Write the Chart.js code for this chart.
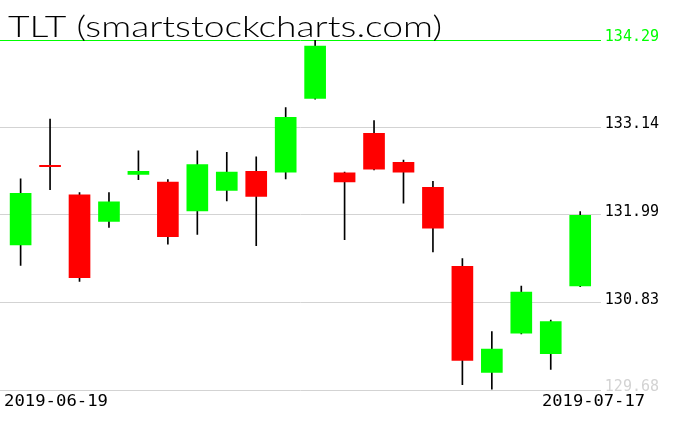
<!DOCTYPE html>
<html>
<head>
<meta charset="utf-8">
<script src="https://cdn.jsdelivr.net/npm/chart.js@4/dist/chart.umd.min.js"></script>
<style>
  body { margin: 0; background: #fff; }
  #wrap { width: 676px; height: 431px; position: relative; }
</style>
</head>
<body>
<div id="wrap"><canvas id="myChart"></canvas></div>
<script>
// TLT daily candles, 2019-06-19 .. 2019-07-17
const opens  = [131.59, 132.64, 132.25, 131.90, 132.52, 132.42, 132.04, 132.31, 132.56, 132.55,
                133.52, 132.54, 133.06, 132.68, 132.35, 131.31, 129.91, 130.43, 130.16, 131.05];
const closes = [132.27, 132.62, 131.16, 132.16, 132.56, 131.70, 132.65, 132.55, 132.23, 133.27,
                134.21, 132.42, 132.59, 132.55, 131.81, 130.07, 130.22, 130.97, 130.58, 131.98];
const highs  = [132.46, 133.25, 132.28, 132.28, 132.83, 132.45, 132.83, 132.81, 132.75, 133.40,
                134.29, 132.55, 133.23, 132.71, 132.43, 131.41, 130.45, 131.05, 130.60, 132.03];
const lows   = [131.32, 132.32, 131.11, 131.82, 132.45, 131.60, 131.73, 132.17, 131.58, 132.46,
                133.51, 131.66, 132.58, 132.14, 131.50, 129.75, 129.69, 130.42, 129.95, 131.04];

const priceTicks = [129.68, 130.83, 131.99, 133.14, 134.29];
const dateLabels = ['2019-06-19', '2019-07-17'];
const titleText = 'TLT (smartstockcharts.com)';

const bodyColors = opens.map((o, i) => closes[i] >= o ? '#00ff00' : '#ff0000');

// fit text to a width by stretching it
function fitText(ctx, text, x, y, w) {
  const m = ctx.measureText(text).width;
  ctx.save();
  ctx.translate(x, y);
  ctx.scale(w / m, 1);
  ctx.fillText(text, 0, 0);
  ctx.restore();
}

const textPlugin = {
  id: 'textPlugin',
  afterDraw(chart) {
    const ctx = chart.ctx;
    ctx.save();
    ctx.textAlign = 'left';
    ctx.textBaseline = 'alphabetic';
    ctx.fillStyle = '#000';
    ctx.font = '300 30px Lato, "DejaVu Sans"';
    fitText(ctx, titleText, 8, 37, 434);
    ctx.font = '15px "DejaVu Sans Mono"';
    const by = chart.chartArea.bottom + 16;
    fitText(ctx, dateLabels[0], 4, by, 104);
    fitText(ctx, dateLabels[1], 542, by, 103);
    ctx.restore();
  }
};

const ctx = document.getElementById('myChart').getContext('2d');
new Chart(ctx, {
  type: 'bar',
  data: {
    datasets: [
      {
        label: 'body',
        data: opens.map((o, i) => ({ x: i, y: [o, closes[i]] })),
        backgroundColor: bodyColors,
        borderWidth: 0,
        barThickness: 21,
        grouped: false
      },
      {
        label: 'wick',
        data: lows.map((l, i) => ({ x: i, y: [l, highs[i]] })),
        backgroundColor: '#000',
        borderWidth: 0,
        barThickness: 1,
        grouped: false
      }
    ]
  },
  options: {
    responsive: true,
    maintainAspectRatio: false,
    animation: false,
    layout: { padding: { top: 40, bottom: 41, left: 0, right: 13 } },
    plugins: {
      legend: { display: false },
      tooltip: { enabled: false }
    },
    scales: {
      x: {
        type: 'linear',
        min: -0.7,
        max: 19.7,
        offset: false,
        display: false
      },
      y: {
        position: 'right',
        min: 129.68,
        max: 134.29,
        z: 1,
        afterBuildTicks: (scale) => {
          scale.ticks = priceTicks.map(v => ({ value: v }));
        },
        border: { display: false },
        grid: {
          drawTicks: false,
          color: (c) => c.tick && c.tick.value === 134.29 ? '#00ff00' : '#d3d3d3'
        },
        ticks: {
          padding: 4,
          labelOffset: -3,
          autoSkip: false,
          font: { family: 'DejaVu Sans Mono', size: 15 },
          color: (c) => c.index === 4 ? '#00ff00' : (c.index === 0 ? '#d3d3d3' : '#000'),
          callback: (v) => Number(v).toFixed(2)
        }
      }
    }
  },
  plugins: [textPlugin]
});
</script>
</body>
</html>
